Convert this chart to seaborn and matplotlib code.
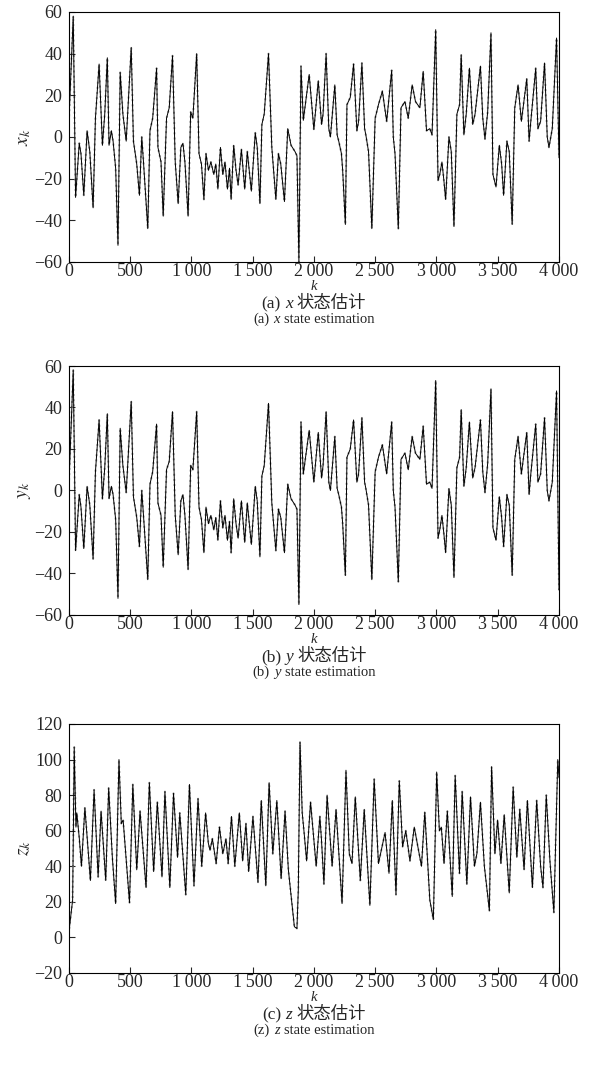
import matplotlib
matplotlib.use("Agg")
import matplotlib.pyplot as plt
import seaborn as sns
import pandas as pd
from matplotlib.offsetbox import TextArea, HPacker, AnchoredOffsetbox

# values (step k, state value)
x_k = [0, 37, 56, 86, 100, 123, 150, 172, 199, 218, 248, 275, 294, 315, 329, 348, 362, 383, 402, 420,
       442, 469, 510, 528, 555, 577, 596, 610, 645, 663, 685, 717, 728, 753, 771, 798, 820, 847, 869,
       893, 915, 932, 948, 974, 995, 1013, 1044, 1063, 1083, 1103, 1120, 1140, 1160, 1184, 1200, 1217,
       1238, 1257, 1275, 1295, 1312, 1325, 1346, 1365, 1382, 1409, 1436, 1457, 1490, 1522, 1538, 1560,
       1576, 1595, 1630, 1657, 1690, 1711, 1730, 1760, 1787, 1814, 1846, 1862, 1878, 1895, 1914, 1962,
       2000, 2036, 2063, 2075, 2100, 2122, 2135, 2171, 2190, 2203, 2225, 2235, 2257, 2270, 2297, 2324,
       2351, 2365, 2392, 2414, 2424, 2446, 2473, 2500, 2527, 2559, 2594, 2635, 2648, 2662, 2689, 2711,
       2743, 2770, 2802, 2829, 2865, 2892, 2919, 2946, 2964, 2994, 3013, 3027, 3045, 3061, 3075, 3102,
       3121, 3143, 3167, 3189, 3202, 3224, 3243, 3269, 3296, 3315, 3359, 3378, 3396, 3418, 3445, 3461,
       3486, 3513, 3532, 3548, 3575, 3594, 3618, 3639, 3666, 3693, 3737, 3756, 3770, 3810, 3828, 3850,
       3882, 3904, 3918, 3945, 3980, 4000]
x_vals = [5, 58, -29, -3, -8, -28, 3, -7, -34, 9, 35, -4, 11, 38, -4, 3, -2, -15, -52, 31,
          11, -2, 43, -2, -13, -28, 0, -12, -44, 3, 9, 33, -5, -12, -38, 9, 14, 39, -12,
          -32, -5, -3, -12, -38, 12, 9, 40, -8, -13, -30, -8, -16, -12, -18, -13, -25,
          -5, -18, -12, -25, -15, -30, -4, -16, -23, -6, -25, -7, -26, 2, -5, -32,
          6, 11, 40, -5, -30, -8, -13, -31, 4, -4, -7, -9, -60, 34, 8, 30,
          3.5, 27, 6, 11, 40, 4, 0, 25, 1, -2, -8, -16, -42, 15.5, 19, 35,
          3, 7.5, 35.5, 4, 1, -7, -44, 9, 15.5, 22, 7.5, 32, 0, -8, -44, 14,
          17, 9, 25, 17, 14, 31.5, 3, 4, 1, 51.5, -21, -18, -12, -21, -30, 0,
          -7, -43, 11, 15.5, 39.5, 1, 11, 33, 6, 11, 34, 9, -1, 12, 50, -18,
          -24, -4, -13, -28, -2, -7, -42, 14, 25, 7.5, 28, -2, 7.5, 33, 4, 7.5,
          35.5, 0, -5, 4, 47.5, -10]

y_vals = [0, 58, -29, -2, -8, -28, 2, -7, -33, 9, 34, -4, 11, 37, -4, 2, -2, -14, -52, 30,
          12, -1, 43, -3, -13, -27, 0, -12, -43, 3, 9, 32, -6, -12, -37, 10, 14, 38, -12,
          -31, -5, -2, -12, -38, 12, 10, 38, -8, -14, -30, -8, -16, -12, -19, -13, -24,
          -5, -18, -12, -24, -15, -30, -4, -16, -23, -5, -25, -6, -26, 2, -5, -32,
          7, 12, 42, -6, -29, -9, -13, -30, 3, -4, -7, -9, -55, 33, 8, 29,
          4, 28, 6, 12, 38, 4, 0, 26, 1, -2, -8, -16, -41, 16, 20, 34,
          4, 8, 35, 4, 1, -7, -43, 9, 16, 22, 8, 33, 0, -8, -44, 15,
          18, 10, 26, 18, 15, 31, 3, 4, 1, 53, -23, -19, -12, -21, -30, 1,
          -7, -42, 11, 16, 39, 2, 11, 33, 6, 11, 34, 9, -1, 13, 49, -18,
          -24, -3, -13, -27, -2, -7, -41, 15, 26, 8, 28, -2, 8, 32, 4, 8,
          35, 0, -5, 4, 48, -48]

z_k = [0, 32, 45, 59, 66, 86, 104, 132, 177, 207, 240, 264, 302, 326, 356, 383, 410, 429, 444, 496,
       523, 555, 582, 631, 658, 693, 723, 761, 785, 825, 855, 888, 906, 955, 985, 1022, 1055, 1085,
       1117, 1139, 1153, 1172, 1203, 1230, 1257, 1283, 1301, 1328, 1355, 1392, 1419, 1446, 1468, 1503,
       1544, 1571, 1608, 1635, 1665, 1698, 1733, 1765, 1792, 1841, 1862, 1873, 1887, 1905, 1919, 1941,
       1973, 2019, 2049, 2062, 2082, 2108, 2149, 2181, 2230, 2262, 2289, 2311, 2338, 2379, 2411, 2457,
       2492, 2527, 2581, 2613, 2640, 2670, 2697, 2724, 2750, 2784, 2819, 2878, 2905, 2946, 2975, 3002,
       3024, 3040, 3062, 3089, 3129, 3153, 3188, 3210, 3248, 3278, 3310, 3330, 3359, 3391, 3432, 3450,
       3477, 3499, 3526, 3553, 3594, 3626, 3656, 3680, 3715, 3742, 3783, 3818, 3850, 3869, 3896, 3926,
       3958, 3990, 4000]
z_vals = [2, 21, 107, 62, 70, 56, 40, 73, 32, 83, 34, 71, 32, 84, 45, 19, 100, 64, 66, 19.5,
          86, 38, 71, 28, 87, 37, 76, 34, 82, 28, 81, 45, 70, 24, 86, 29, 78, 40,
          70, 53, 49, 55.5, 41.5, 62, 47, 55.5, 41.5, 68, 40, 70, 43, 64, 37, 68,
          31, 77, 29, 87, 47, 77, 33, 71, 38, 6, 5, 26.5, 110, 70, 60, 43,
          76, 40, 68, 55, 30, 80, 40, 72, 19, 94, 47, 41.5, 79, 32, 72, 18,
          89, 41.5, 59, 36, 77, 24, 88, 51, 60, 43, 62, 40, 70.5, 21, 10, 93,
          60, 62, 41.5, 71, 23, 91, 36, 82, 30, 79, 40, 47, 76, 40, 15, 96,
          47, 66, 41.5, 69, 25, 84.5, 45, 72, 38, 77, 28, 77, 40, 28, 80, 43,
          14, 100, 90]

# ty: baseline of "k", centre of Chinese caption, centre of English caption (figure fraction)
panels = [
    dict(k=x_k, v=x_vals, var="x", tag="(a)", tag_en="(a)", ylim=(-60, 60), yticks=range(-60, 61, 20),
         rect=[0.1149, 0.7547, 0.8199, 0.2341], ty=[0.7285, 0.7153, 0.7010]),
    dict(k=x_k, v=y_vals, var="y", tag="(b)", tag_en="(b)", ylim=(-60, 60), yticks=range(-60, 61, 20),
         rect=[0.1149, 0.4242, 0.8199, 0.2331], ty=[0.3980, 0.3848, 0.3705]),
    dict(k=z_k, v=z_vals, var="z", tag="(c)", tag_en="(z)", ylim=(-20, 120), yticks=range(-20, 121, 20),
         rect=[0.1149, 0.0890, 0.8199, 0.2331], ty=[0.0627, 0.0496, 0.0353]),
]

sns.set_style("white")
plt.rcParams["font.family"] = ["Liberation Serif", "DejaVu Serif"]
plt.rcParams["mathtext.fontset"] = "stix"
cjk = ["Liberation Serif", "Noto Sans CJK SC", "DejaVu Sans"]

xt = [0, 500, 1000, 1500, 2000, 2500, 3000, 3500, 4000]
xt_labels = ["0", "500", "1\u2009000", "1\u2009500", "2\u2009000", "2\u2009500",
             "3\u2009000", "3\u2009500", "4\u2009000"]

fig = plt.figure(figsize=(5.98, 10.68), dpi=100)

for p in panels:
    ax = fig.add_axes(p["rect"])
    df = pd.DataFrame({"k": p["k"], "v": p["v"]})
    # true state (solid) and estimate (dotted gray) nearly coincide
    sns.lineplot(data=df, x="k", y="v", ax=ax, color="#9a9a9a", linewidth=1.4,
                 linestyle=":", estimator=None, sort=False)
    sns.lineplot(data=df, x="k", y="v", ax=ax, color="black", linewidth=0.7,
                 estimator=None, sort=False)
    ax.set_xlim(0, 4000)
    ax.set_ylim(*p["ylim"])
    ax.set_xticks(xt)
    ax.set_xticklabels(xt_labels)
    ax.set_yticks(list(p["yticks"]))
    ax.tick_params(direction="in", length=4, width=0.8, labelsize=13,
                   bottom=True, left=True, top=False, right=False)
    ax.tick_params(axis="x", pad=1)
    ax.tick_params(axis="y", pad=4.5)
    for s in ax.spines.values():
        s.set_linewidth(0.8)
        s.set_color("black")
    ax.set_xlabel("")
    ax.set_ylabel("$%s_k$" % p["var"], fontsize=14, labelpad=1)

    cx = p["rect"][0] + 0.5 * p["rect"][2]
    fig.text(cx, p["ty"][0], "k", ha="center", va="baseline", fontsize=10.5, style="italic")

    zh = HPacker(children=[TextArea(p["tag"], textprops=dict(family=cjk, size=12.5)),
                           TextArea(p["var"], textprops=dict(family=cjk, size=12.5, style="italic")),
                           TextArea("状态估计", textprops=dict(family=cjk, size=12.5))],
                 align="baseline", pad=0, sep=3)
    fig.add_artist(AnchoredOffsetbox(loc="center", child=zh, pad=0, borderpad=0, frameon=False,
                                     bbox_to_anchor=(cx, p["ty"][1]),
                                     bbox_transform=fig.transFigure))
    en = HPacker(children=[TextArea(p["tag_en"], textprops=dict(size=10.5)),
                           TextArea(p["var"], textprops=dict(size=10.5, style="italic")),
                           TextArea("state estimation", textprops=dict(size=10.5))],
                 align="baseline", pad=0, sep=3)
    fig.add_artist(AnchoredOffsetbox(loc="center", child=en, pad=0, borderpad=0, frameon=False,
                                     bbox_to_anchor=(cx, p["ty"][2]),
                                     bbox_transform=fig.transFigure))

fig.savefig("out.png", dpi=100)
